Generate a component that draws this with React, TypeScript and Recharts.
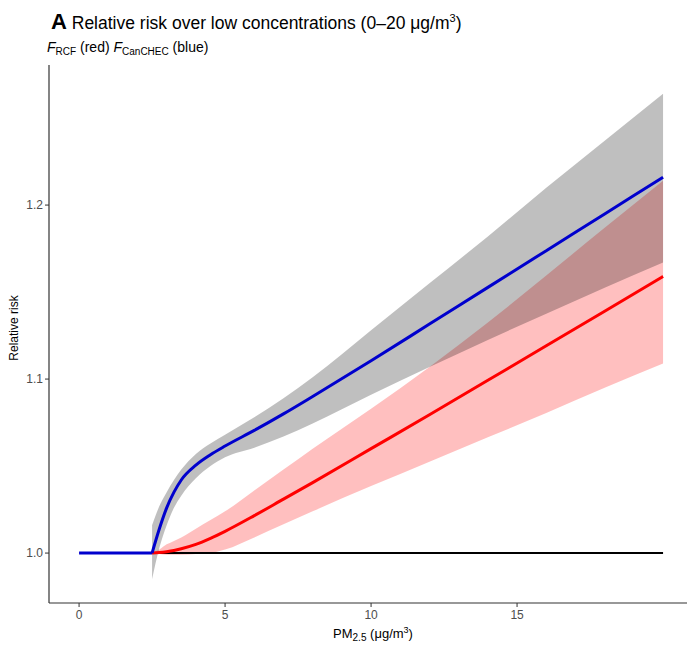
import {
  ComposedChart,
  Line,
  Area,
  XAxis,
  YAxis,
} from "recharts"

// PM2.5 concentrations (ug/m3)
const pm = [0, 2.5, 2.75, 3, 3.25, 3.5, 4, 4.5, 5, 6, 7, 8, 10, 12, 14, 16, 18, 20]

// F_CanCHEC (blue): flat part below the threshold, then the curve
const canchecFlat = [1.0, 1.0, null, null, null, null, null, null, null, null, null, null, null, null, null, null, null, null]
const canchec = [null, 1.0, 1.014, 1.026, 1.035, 1.042, 1.0505, 1.0565, 1.0615, 1.0705, 1.08, 1.09, 1.1105, 1.1316, 1.1527, 1.1738, 1.1949, 1.216]
const canchecLo = [null, 0.985, 1.003, 1.016, 1.026, 1.033, 1.043, 1.05, 1.055, 1.0605, 1.067, 1.0745, 1.091, 1.107, 1.1225, 1.1375, 1.1525, 1.167]
const canchecHi = [null, 1.016, 1.027, 1.035, 1.042, 1.048, 1.057, 1.063, 1.068, 1.078, 1.089, 1.101, 1.128, 1.155, 1.182, 1.21, 1.237, 1.264]

// F_RCF (red) and its interval
const rcf = [null, 1.0, 1.0003, 1.0008, 1.0015, 1.0025, 1.005, 1.0085, 1.0125, 1.0215, 1.031, 1.0405, 1.06, 1.0795, 1.0993, 1.1191, 1.139, 1.159]
const rcfLo = [null, 1.0, 0.9995, 0.999, 0.999, 0.999, 0.9995, 1.0, 1.002, 1.009, 1.0165, 1.024, 1.0385, 1.0525, 1.0665, 1.0805, 1.095, 1.109]
const rcfHi = [null, 1.0, 1.002, 1.005, 1.007, 1.009, 1.014, 1.019, 1.024, 1.036, 1.048, 1.06, 1.083, 1.107, 1.1325, 1.1595, 1.187, 1.214]

// reference line at RR = 1
const baseline = [null, 1, 1, 1, 1, 1, 1, 1, 1, 1, 1, 1, 1, 1, 1, 1, 1, 1]

const xTicks = [0, 5, 10, 15]
const yTicks = [1.0, 1.1, 1.2]

const data = pm.map((x, i) => ({
  x,
  flat: canchecFlat[i],
  blue: canchec[i],
  blueBand: canchecLo[i] == null ? null : [canchecLo[i], canchecHi[i]],
  red: rcf[i],
  redBand: rcfLo[i] == null ? null : [rcfLo[i], rcfHi[i]],
  base: baseline[i],
}))

const font = '"Liberation Sans", Arial, sans-serif'
const tick = { fill: "#4d4d4d", fontSize: 12, fontFamily: font }

export default function App() {
  return (
    <div
      style={{
        position: "absolute",
        left: 0,
        top: 0,
        width: 687,
        height: 645,
        fontFamily: font,
        background: "#fff",
      }}
    >
      <ComposedChart
        width={687}
        height={645}
        data={data}
        margin={{ top: 65, right: 0, bottom: 0, left: 0 }}
        style={{ position: "absolute", left: 0, top: 0 }}
      >
        <XAxis
          dataKey="x"
          type="number"
          domain={[-1.03, 20.82]}
          ticks={xTicks}
          height={42}
          tickSize={4}
          tickMargin={3}
          tick={tick}
          axisLine={{ stroke: "#333", strokeWidth: 1.2 }}
          tickLine={{ stroke: "#333" }}
        />
        <YAxis
          type="number"
          domain={[0.9713, 1.2805]}
          ticks={yTicks}
          width={49}
          tickSize={4}
          tickMargin={2}
          tick={tick}
          tickFormatter={(v: number) => v.toFixed(1)}
          axisLine={{ stroke: "#333", strokeWidth: 1.2 }}
          tickLine={{ stroke: "#333" }}
        />
        <Area
          type="monotone"
          dataKey="redBand"
          stroke="none"
          fill="#ff0000"
          fillOpacity={0.25}
          isAnimationActive={false}
        />
        <Area
          type="monotone"
          dataKey="blueBand"
          stroke="none"
          fill="#000000"
          fillOpacity={0.25}
          isAnimationActive={false}
        />
        <Line type="linear" dataKey="base" stroke="#000" strokeWidth={2} dot={false} isAnimationActive={false} />
        <Line type="monotone" dataKey="red" stroke="#ff0000" strokeWidth={3} dot={false} isAnimationActive={false} />
        <Line type="linear" dataKey="flat" stroke="#0000cd" strokeWidth={3} dot={false} isAnimationActive={false} />
        <Line type="monotone" dataKey="blue" stroke="#0000cd" strokeWidth={3} dot={false} isAnimationActive={false} />
      </ComposedChart>
      <svg
        width={687}
        height={645}
        style={{ position: "absolute", left: 0, top: 0, pointerEvents: "none" }}
        fontFamily={font}
      >
        <text x={51} y={29} fontSize={17.5} fill="#000">
          <tspan fontWeight="bold" fontSize={22}>A</tspan>
          <tspan> Relative risk over low concentrations (0–20 μg/m</tspan>
          <tspan fontSize={11} dy={-7}>3</tspan>
          <tspan dy={7}>)</tspan>
        </text>
        <text x={47} y={52} fontSize={14} fill="#000">
          <tspan fontStyle="italic">F</tspan>
          <tspan fontSize={10} dy={3}>RCF</tspan>
          <tspan dy={-3}> (red) </tspan>
          <tspan fontStyle="italic">F</tspan>
          <tspan fontSize={10} dy={3}>CanCHEC</tspan>
          <tspan dy={-3}> (blue)</tspan>
        </text>
        <text
          x={0}
          y={0}
          fontSize={12}
          fill="#000"
          textAnchor="middle"
          transform="translate(18 328) rotate(-90)"
        >
          Relative risk
        </text>
        <text x={373} y={638} fontSize={13} fill="#000" textAnchor="middle">
          <tspan>PM</tspan>
          <tspan fontSize={10} dy={3}>2.5</tspan>
          <tspan dy={-3}> (μg/m</tspan>
          <tspan fontSize={9} dy={-5}>3</tspan>
          <tspan dy={5}>)</tspan>
        </text>
      </svg>
    </div>
  )
}
